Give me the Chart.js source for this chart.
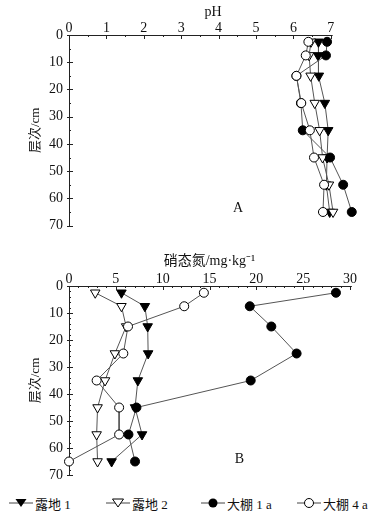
<!DOCTYPE html>
<html><head><meta charset="utf-8">
<script src="https://cdn.jsdelivr.net/npm/chart.js@4/dist/chart.umd.min.js"></script>
<style>
html,body{margin:0;padding:0;background:#fff;width:380px;height:517px;overflow:hidden;position:relative;}
.box{position:absolute;left:0;width:380px;}
#boxA{top:0;height:240px;}
#boxB{top:240px;height:250px;}
.leg{position:absolute;top:494px;height:18px;display:flex;align-items:center;font-family:'Liberation Serif','Noto Sans CJK SC',serif;font-size:13px;color:#111;white-space:nowrap;}
.leg svg{margin-right:2px;}
</style></head>
<body>
<div class="box" id="boxA"><canvas id="cA"></canvas></div>
<div class="box" id="boxB"><canvas id="cB"></canvas></div>
<div class="leg" style="left:9px"><svg width="24" height="14"><line x1="0" y1="7" x2="24" y2="7" stroke="#444" stroke-width="1"/><polygon points="6.5,3 17.5,3 12,11" fill="#000"/></svg>露地 1</div>
<div class="leg" style="left:106px"><svg width="24" height="14"><line x1="0" y1="7" x2="24" y2="7" stroke="#444" stroke-width="1"/><polygon points="6.5,3 17.5,3 12,11" fill="#fff" stroke="#000" stroke-width="1"/></svg>露地 2</div>
<div class="leg" style="left:201px"><svg width="24" height="14"><line x1="0" y1="7" x2="24" y2="7" stroke="#444" stroke-width="1"/><circle cx="12" cy="7" r="4.5" fill="#000"/></svg>大棚 1 a</div>
<div class="leg" style="left:297px"><svg width="24" height="14"><line x1="0" y1="7" x2="24" y2="7" stroke="#444" stroke-width="1"/><circle cx="12" cy="7" r="4.5" fill="#fff" stroke="#000" stroke-width="1"/></svg>大棚 4 a</div>
<script>
// ---- data ----
const depths = [2.5, 7.5, 15, 25, 35, 45, 55, 65];
const seriesNames = ['露地 1', '露地 2', '大棚 1 a', '大棚 4 a'];
// pH (panel A)
const phLudi1   = [6.67, 6.66, 6.68, 6.84, 6.93, 6.90, 6.88, 6.97];
const phLudi2   = [6.47, 6.42, 6.46, 6.57, 6.70, 6.78, 6.95, 7.06];
const phPeng1a  = [6.90, 6.87, 6.08, 6.20, 6.25, 6.98, 7.33, 7.56];
const phPeng4a  = [6.40, 6.33, 6.08, 6.21, 6.44, 6.55, 6.82, 6.79];
// nitrate N, mg/kg (panel B)
const noLudi1   = [5.6, 8.1, 8.4, 8.45, 7.35, 7.05, 7.8, 4.55];
const noLudi2   = [2.8, 5.6, 6.1, 4.9, 3.85, 3.05, 2.95, 3.05];
const noPeng1a  = [28.5, 19.3, 21.6, 24.3, 19.4, 7.2, 6.35, 7.05];
const noPeng4a  = [14.4, 12.3, 6.3, 5.8, 2.95, 5.35, 5.35, 0.0];
const phTicks = [0,1,2,3,4,5,6,7];
const noTicks = [0,5,10,15,20,25,30];
const depthTicks = [0,10,20,30,40,50,60,70];

const SERIF = "'Liberation Serif','Noto Sans CJK SC',serif";
const LINE = '#555';

function mk(values, style){
  return Object.assign({
    data: values.map((v,i)=>({x:v, y:depths[i]})),
    borderColor: LINE, borderWidth: 1, showLine: true, clip: false,
    pointBorderColor: '#000', pointBorderWidth: 1, tension: 0
  }, style);
}
function sets(a,b,c,d){
  return [
    mk(a,{label:seriesNames[0], pointStyle:'triangle', rotation:180, pointRadius:5.5, pointBackgroundColor:'#000', order:3}),
    mk(b,{label:seriesNames[1], pointStyle:'triangle', rotation:180, pointRadius:5.5, pointBackgroundColor:'#fff', order:2}),
    mk(c,{label:seriesNames[2], pointStyle:'circle', pointRadius:4.5, pointBackgroundColor:'#000', order:1}),
    mk(d,{label:seriesNames[3], pointStyle:'circle', pointRadius:4.5, pointBackgroundColor:'#fff', order:0})
  ];
}

const tickPlugin = {
  id:'inTicks',
  beforeDatasetsDraw(chart, args, o){
    const ctx = chart.ctx, xs = chart.scales.x, ys = chart.scales.y, ca = chart.chartArea;
    ctx.save(); ctx.strokeStyle = '#222'; ctx.lineWidth = 1;
    const top = Math.round(ca.top)+0.5;
    ctx.beginPath(); ctx.moveTo(ca.left, top); ctx.lineTo(xs.getPixelForValue(o.axisEnd), top); ctx.stroke();
    const eps=1e-6;
    for(let v = 0; v <= o.xLast + eps; v += o.xMinor){
      const px = Math.round(xs.getPixelForValue(v))+0.5;
      const major = Math.abs(v/o.xMajor - Math.round(v/o.xMajor)) < 1e-4;
      ctx.beginPath(); ctx.moveTo(px, ca.top); ctx.lineTo(px, ca.top + (major?4:2)); ctx.stroke();
    }
    for(let v = ys.min; v <= ys.max + eps; v += o.yMinor){
      const py = Math.round(ys.getPixelForValue(v))+0.5;
      const major = Math.abs(v/o.yMajor - Math.round(v/o.yMajor)) < 1e-4;
      ctx.beginPath(); ctx.moveTo(ca.left - (major?2:0), py); ctx.lineTo(ca.left + (major?4:2), py); ctx.stroke();
    }
    ctx.fillStyle='#111'; ctx.font = '14px ' + SERIF; ctx.textAlign='center'; ctx.textBaseline='middle';
    ctx.fillText(o.tag, xs.getPixelForValue(o.tagX), ys.getPixelForValue(o.tagY));
    ctx.restore();
  }
};

function build(id, ds, xmax, xticks, title, topH, padR, padB, titlePad, tickPad, tp){
  return new Chart(document.getElementById(id), {
    type:'scatter',
    data:{datasets: ds},
    options:{
      responsive:true, maintainAspectRatio:false, animation:false,
      layout:{padding:{left:0, right:padR, top:0, bottom:padB}},
      plugins:{legend:{display:false}, tooltip:{enabled:false}, inTicks: tp},
      scales:{
        x:{type:'linear', position:'top', min:0, max:xmax,
           afterBuildTicks: s => { s.ticks = xticks.map(v=>({value:v})); },
           afterFit: s => { s.height = topH; },
           grid:{display:false, drawTicks:false},
           border:{display:false},
           ticks:{color:'#111', font:{family:SERIF, size:14}, padding:tickPad, autoSkip:false, maxRotation:0},
           title:{display:true, text:title, color:'#111', font:{family:SERIF, size:14}, padding:{top:titlePad, bottom:0}}
        },
        y:{type:'linear', reverse:true, min:0, max:70,
           afterBuildTicks: s => { s.ticks = depthTicks.map(v=>({value:v})); },
           afterFit: s => { s.width = 69; },
           grid:{display:false, drawTicks:false},
           border:{display:true, color:'#222', width:1},
           ticks:{color:'#111', font:{family:SERIF, size:14}, padding:6, autoSkip:false},
           title:{display:true, text:'层次/cm', color:'#111', font:{family:SERIF, size:13}, padding:{top:28, bottom:0}}
        }
      }
    },
    plugins:[tickPlugin]
  });
}

build('cA', sets(phLudi1, phLudi2, phPeng1a, phPeng4a), 7.7, phTicks, 'pH', 35, 23, 14, 4, -2,
      {axisEnd:7.05, xLast:7, xMinor:0.5, xMajor:1, yMinor:5, yMajor:10, tag:'A', tagX:4.52, tagY:63.5});
build('cB', sets(noLudi1, noLudi2, noPeng1a, noPeng4a), 30, noTicks, '硝态氮/mg·kg⁻¹', 46, 30, 15, 13, -2,
      {axisEnd:30.2, xLast:30, xMinor:1, xMajor:5, yMinor:2, yMajor:10, tag:'B', tagX:18.2, tagY:64.3});
</script>
</body></html>
